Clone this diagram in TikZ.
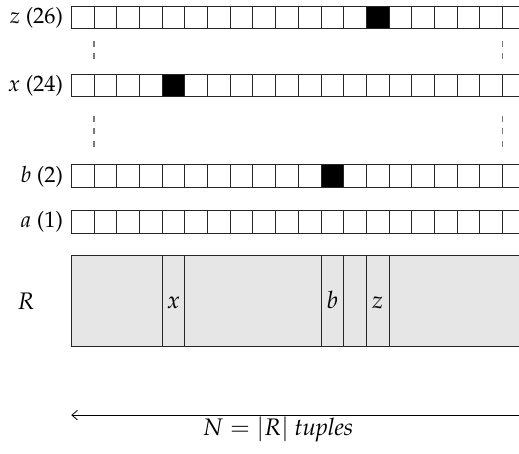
\documentclass[tikz,border=0pt]{standalone}
\usepackage[T1]{fontenc}
\usepackage{mathpazo}
\usepackage{tikz}
\usetikzlibrary{arrows.meta}
\definecolor{relfill}{HTML}{E6E6E6}
\definecolor{guide}{HTML}{7A7A7A}

\begin{document}
\begin{tikzpicture}[x=0.5cm, y=0.5cm, >={Straight Barb[length=3.5pt,width=6pt]},
    font=\fontsize{15}{18}\selectfont,
    cell/.style={draw=black!85, line width=0.6pt},
    guideline/.style={draw=guide, line width=0.8pt, dash pattern=on 3.7pt off 4.3pt},
    rowlabel/.style={anchor=base east, inner sep=0pt, font=\fontsize{14}{17}\selectfont},
    collabel/.style={anchor=base, inner sep=0pt}]
  \useasboundingbox (-3.14,0.264) rectangle (19.72,-19.69);
  \clip (-3.14,0.264) rectangle (19.72,-19.69);
  % Bitmap rows: top edge / value / count / set bit
  \foreach \top/\val/\num/\bit in {0/z/26/13, -3/x/24/4, -7/b/2/11, -9/a/1/-1} {
    \ifnum\bit>-1
      \fill (\bit,\top) rectangle ++(1,-1);
    \fi
    \foreach \i in {0,...,19}
      \draw[cell] (\i,\top) rectangle ++(1,-1);
    \node[rowlabel] (row-\val) at (-0.35,\top-0.76) {$\val$ (\num)};
  }
  % Skipped rows
  \draw[guideline] (1,-1.53) -- (1,-2.4);
  \draw[guideline] (19,-1.53) -- (19,-2.4);
  \draw[guideline] (1,-4.83) -- (1,-6.35);
  \draw[guideline] (19,-4.83) -- (19,-6.35);
  % Relation R
  \draw[cell, fill=relfill] (0,-11) rectangle (21,-15);
  \foreach \c in {4,5,11,12,13,14}
    \draw[cell] (\c,-11) -- (\c,-15);
  \node[collabel] (rel) at (-2.0,-13.36) {$R$};
  \foreach \c/\val in {4/x, 11/b, 13/z}
    \node[collabel] (tuple-\val) at (\c+0.5,-13.32) {$\val$};
  % Number of tuples
  \coordinate (tupR) at (21,-18.02);
  \coordinate (tupL) at (0,-18.02);
  \draw[->, line width=0.5pt] (tupR) -- (tupL);
  \node[collabel] (count) at (9.1,-18.94) {$N = |R|$ \textit{tuples}};
\end{tikzpicture}
\end{document}
